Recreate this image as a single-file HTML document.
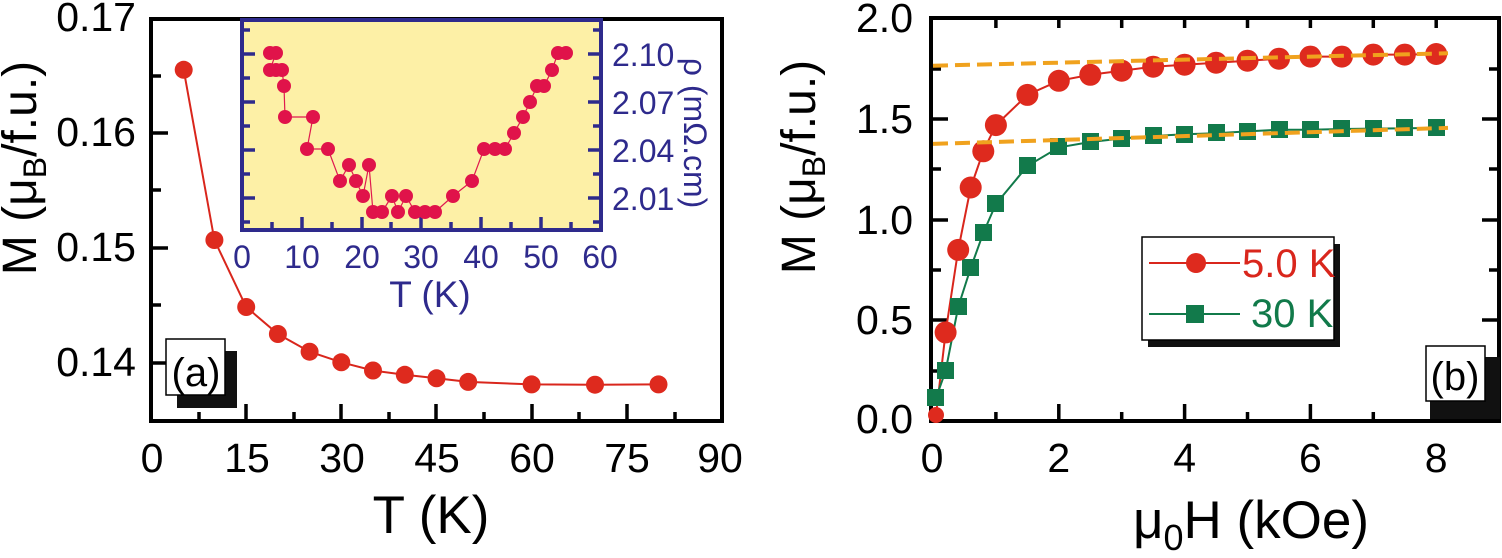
<!DOCTYPE html>
<html><head><meta charset="utf-8"><style>
html,body{margin:0;padding:0;background:#fff;}
svg{display:block;}
text{font-family:"Liberation Sans",sans-serif;}
</style></head><body>
<svg width="1502" height="558" viewBox="0 0 1502 558" xmlns="http://www.w3.org/2000/svg">
<!-- ===== Panel (a) ===== -->
<rect x="151" y="19" width="571" height="402" fill="none" stroke="#000" stroke-width="4"/>
<g stroke="#000" stroke-width="3.5">
<line x1="151" y1="133" x2="168" y2="133"/><line x1="151" y1="248" x2="168" y2="248"/><line x1="151" y1="363" x2="168" y2="363"/>
<line x1="151" y1="76" x2="161" y2="76"/><line x1="151" y1="190" x2="161" y2="190"/><line x1="151" y1="305" x2="161" y2="305"/>
<line x1="246" y1="421" x2="246" y2="404"/><line x1="341" y1="421" x2="341" y2="404"/><line x1="436" y1="421" x2="436" y2="404"/><line x1="532" y1="421" x2="532" y2="404"/><line x1="627" y1="421" x2="627" y2="404"/>
<line x1="199" y1="421" x2="199" y2="412"/><line x1="294" y1="421" x2="294" y2="412"/><line x1="389" y1="421" x2="389" y2="412"/><line x1="484" y1="421" x2="484" y2="412"/><line x1="579" y1="421" x2="579" y2="412"/><line x1="675" y1="421" x2="675" y2="412"/>
</g>
<g font-size="41" text-anchor="end" fill="#000">
<text x="136" y="31">0.17</text><text x="136" y="146">0.16</text><text x="136" y="261">0.15</text><text x="136" y="376">0.14</text>
</g>
<g font-size="41" text-anchor="middle" fill="#000">
<text x="152" y="472">0</text><text x="247" y="472">15</text><text x="342" y="472">30</text><text x="437" y="472">45</text><text x="532" y="472">60</text><text x="627" y="472">75</text><text x="720" y="472">90</text>
</g>
<text x="431" y="533" font-size="53" text-anchor="middle">T (K)</text>
<text transform="translate(36,168) rotate(-90)" font-size="48" text-anchor="middle">M (μ<tspan font-size="32" dy="10">B</tspan><tspan dy="-10">/f.u.)</tspan></text>
<rect x="177" y="351" width="60" height="57" fill="#111"/>
<rect x="166" y="339" width="59" height="56" fill="#fff" stroke="#000" stroke-width="1.5"/>
<text x="196" y="386" font-size="40" text-anchor="middle">(a)</text>
<polyline fill="none" stroke="#d9261c" stroke-width="2" points="183.7,69.8 214.4,240 246.2,307 277.9,334 309.6,351.7 341.3,362.3 373,370.5 404.8,374.8 436.5,378.3 468.2,381.9 531.6,384.4 595,384.7 658.5,384.4"/>
<g fill="#de2a1e">
<circle cx="183.7" cy="69.8" r="9"/><circle cx="214.4" cy="240" r="9"/><circle cx="246.2" cy="307" r="9"/><circle cx="277.9" cy="334" r="9"/><circle cx="309.6" cy="351.7" r="9"/><circle cx="341.3" cy="362.3" r="9"/><circle cx="373" cy="370.5" r="9"/><circle cx="404.8" cy="374.8" r="9"/><circle cx="436.5" cy="378.3" r="9"/><circle cx="468.2" cy="381.9" r="9"/><circle cx="531.6" cy="384.4" r="9"/><circle cx="595" cy="384.7" r="9"/><circle cx="658.5" cy="384.4" r="9"/>
</g>
<!-- ===== Inset ===== -->
<rect x="242" y="20" width="359" height="210" fill="#fdf0a6" stroke="#2e2a8c" stroke-width="4"/>
<g stroke="#2e2a8c" stroke-width="3.5">
<line x1="242" y1="54" x2="255" y2="54"/><line x1="242" y1="102" x2="255" y2="102"/><line x1="242" y1="150" x2="255" y2="150"/><line x1="242" y1="198" x2="255" y2="198"/>
<line x1="242" y1="30" x2="250" y2="30"/><line x1="242" y1="78" x2="250" y2="78"/><line x1="242" y1="126" x2="250" y2="126"/><line x1="242" y1="174" x2="250" y2="174"/><line x1="242" y1="222" x2="250" y2="222"/>
<line x1="601" y1="54" x2="588" y2="54"/><line x1="601" y1="102" x2="588" y2="102"/><line x1="601" y1="150" x2="588" y2="150"/><line x1="601" y1="198" x2="588" y2="198"/>
<line x1="601" y1="30" x2="593" y2="30"/><line x1="601" y1="78" x2="593" y2="78"/><line x1="601" y1="126" x2="593" y2="126"/><line x1="601" y1="174" x2="593" y2="174"/><line x1="601" y1="222" x2="593" y2="222"/>
<line x1="302" y1="230" x2="302" y2="217"/><line x1="362" y1="230" x2="362" y2="217"/><line x1="421" y1="230" x2="421" y2="217"/><line x1="481" y1="230" x2="481" y2="217"/><line x1="541" y1="230" x2="541" y2="217"/>
<line x1="272" y1="230" x2="272" y2="222"/><line x1="332" y1="230" x2="332" y2="222"/><line x1="391" y1="230" x2="391" y2="222"/><line x1="451" y1="230" x2="451" y2="222"/><line x1="511" y1="230" x2="511" y2="222"/><line x1="571" y1="230" x2="571" y2="222"/>
</g>
<g font-size="32" fill="#2e2a8c">
<text x="612" y="66">2.10</text><text x="612" y="114">2.07</text><text x="612" y="162">2.04</text><text x="612" y="210">2.01</text>
</g>
<text transform="translate(684,133) rotate(90)" font-size="32" fill="#2e2a8c" text-anchor="middle">ρ (mΩ.cm)</text>
<g font-size="32" text-anchor="middle" fill="#2e2a8c">
<text x="242" y="268">0</text><text x="302" y="268">10</text><text x="362" y="268">20</text><text x="421" y="268">30</text><text x="481" y="268">40</text><text x="541" y="268">50</text><text x="600" y="268">60</text>
</g>
<text x="430" y="307" font-size="37" text-anchor="middle" fill="#2e2a8c">T (K)</text>
<polyline fill="none" stroke="#e0194f" stroke-width="1.2" points="270,53 276,53 270,70 276,70 282,70 284,86 285,117 313,117 307,149 328,149 340,181 349,165 356,181 363,196 369,165 373,212 382,212 392,196 398,212 406,196 415,212 425,212 435,212 453,196 472,181 484,149 495,149 505,149 514,133 523,117 530,102 537,86 544,86 552,70 558,53 566,53"/>
<g fill="#e0134a">
<circle cx="270" cy="53" r="7"/><circle cx="276" cy="53" r="7"/><circle cx="270" cy="70" r="7"/><circle cx="276" cy="70" r="7"/><circle cx="282" cy="70" r="7"/><circle cx="284" cy="86" r="7"/><circle cx="285" cy="117" r="7"/><circle cx="313" cy="117" r="7"/><circle cx="307" cy="149" r="7"/><circle cx="328" cy="149" r="7"/><circle cx="340" cy="181" r="7"/><circle cx="349" cy="165" r="7"/><circle cx="356" cy="181" r="7"/><circle cx="363" cy="196" r="7"/><circle cx="369" cy="165" r="7"/><circle cx="373" cy="212" r="7"/><circle cx="382" cy="212" r="7"/><circle cx="392" cy="196" r="7"/><circle cx="398" cy="212" r="7"/><circle cx="406" cy="196" r="7"/><circle cx="415" cy="212" r="7"/><circle cx="425" cy="212" r="7"/><circle cx="435" cy="212" r="7"/><circle cx="453" cy="196" r="7"/><circle cx="472" cy="181" r="7"/><circle cx="484" cy="149" r="7"/><circle cx="495" cy="149" r="7"/><circle cx="505" cy="149" r="7"/><circle cx="514" cy="133" r="7"/><circle cx="523" cy="117" r="7"/><circle cx="530" cy="102" r="7"/><circle cx="537" cy="86" r="7"/><circle cx="544" cy="86" r="7"/><circle cx="552" cy="70" r="7"/><circle cx="558" cy="53" r="7"/><circle cx="566" cy="53" r="7"/>
</g>
<!-- ===== Panel (b) ===== -->
<rect x="931" y="18" width="568" height="403" fill="none" stroke="#000" stroke-width="4"/>
<g stroke="#000" stroke-width="3.5">
<line x1="931" y1="119" x2="948" y2="119"/><line x1="931" y1="220" x2="948" y2="220"/><line x1="931" y1="320" x2="948" y2="320"/>
<line x1="931" y1="69" x2="941" y2="69"/><line x1="931" y1="169" x2="941" y2="169"/><line x1="931" y1="270" x2="941" y2="270"/><line x1="931" y1="371" x2="941" y2="371"/>
<line x1="1499" y1="119" x2="1482" y2="119"/><line x1="1499" y1="220" x2="1482" y2="220"/><line x1="1499" y1="320" x2="1482" y2="320"/>
<line x1="1499" y1="69" x2="1489" y2="69"/><line x1="1499" y1="169" x2="1489" y2="169"/><line x1="1499" y1="270" x2="1489" y2="270"/>
<line x1="995.9" y1="421" x2="995.9" y2="412"/><line x1="1121.7" y1="421" x2="1121.7" y2="412"/><line x1="1247.5" y1="421" x2="1247.5" y2="412"/><line x1="1373.3" y1="421" x2="1373.3" y2="412"/>
<line x1="1058.8" y1="421" x2="1058.8" y2="404"/><line x1="1184.6" y1="421" x2="1184.6" y2="404"/><line x1="1310.4" y1="421" x2="1310.4" y2="404"/>
<line x1="995.9" y1="18" x2="995.9" y2="28"/><line x1="1058.8" y1="18" x2="1058.8" y2="28"/><line x1="1121.7" y1="18" x2="1121.7" y2="28"/><line x1="1184.6" y1="18" x2="1184.6" y2="28"/><line x1="1247.5" y1="18" x2="1247.5" y2="28"/><line x1="1310.4" y1="18" x2="1310.4" y2="28"/><line x1="1373.3" y1="18" x2="1373.3" y2="28"/><line x1="1436.2" y1="18" x2="1436.2" y2="28"/>
</g>
<g font-size="41" text-anchor="end">
<text x="913" y="32">2.0</text><text x="913" y="133">1.5</text><text x="913" y="234">1.0</text><text x="913" y="334">0.5</text><text x="913" y="433">0.0</text>
</g>
<g font-size="41" text-anchor="middle">
<text x="932" y="472">0</text><text x="1058.8" y="472">2</text><text x="1184.6" y="472">4</text><text x="1310.4" y="472">6</text><text x="1436.2" y="472">8</text>
</g>
<text x="1251" y="538" font-size="53" text-anchor="middle">μ<tspan font-size="36" dy="12">0</tspan><tspan dy="-12">H (kOe)</tspan></text>
<text transform="translate(815,167) rotate(-90)" font-size="48" text-anchor="middle">M (μ<tspan font-size="32" dy="10">B</tspan><tspan dy="-10">/f.u.)</tspan></text>
<polyline fill="none" stroke="#d9261c" stroke-width="2" points="936,415 945.6,332.4 958.2,249.9 970.7,187.5 983.3,151.3 995.9,125.1 1027.4,94.9 1058.8,80.8 1090.3,74.8 1121.7,70.7 1153.2,66.7 1184.6,64.7 1216.1,62.7 1247.5,60.7 1279,58.7 1310.4,56.6 1341.9,56.6 1373.3,54.6 1404.8,54.6 1436.2,54"/>
<polyline fill="none" stroke="#117a4a" stroke-width="2" points="936,398 945.6,371 958.2,307 970.7,268 983.3,233 995.9,204 1027.4,166 1058.8,147.4 1090.3,142 1121.7,138.5 1153.2,136 1184.6,134.3 1216.1,133.2 1247.5,131.4 1279,129.7 1310.4,129.7 1341.9,129 1373.3,128.6 1404.8,128.3 1436.2,128"/>
<g fill="#127a4b">
<rect x="927" y="389" width="17" height="17"/><rect x="937" y="362" width="17" height="17"/><rect x="950" y="298" width="17" height="17"/><rect x="962" y="259" width="17" height="17"/><rect x="975" y="224" width="17" height="17"/><rect x="987" y="195" width="17" height="17"/><rect x="1019" y="157" width="17" height="17"/><rect x="1050" y="138" width="17" height="17"/><rect x="1082" y="133" width="17" height="17"/><rect x="1113" y="130" width="17" height="17"/><rect x="1145" y="127" width="17" height="17"/><rect x="1176" y="126" width="17" height="17"/><rect x="1208" y="124" width="17" height="17"/><rect x="1239" y="123" width="17" height="17"/><rect x="1271" y="121" width="17" height="17"/><rect x="1302" y="121" width="17" height="17"/><rect x="1333" y="120" width="17" height="17"/><rect x="1365" y="120" width="17" height="17"/><rect x="1396" y="119" width="17" height="17"/><rect x="1428" y="119" width="17" height="17"/>
</g>
<g fill="#de2a1e">
<circle cx="936" cy="415" r="8"/><circle cx="945.6" cy="332.4" r="11"/><circle cx="958.2" cy="249.9" r="11"/><circle cx="970.7" cy="187.5" r="11"/><circle cx="983.3" cy="151.3" r="11"/><circle cx="995.9" cy="125.1" r="11"/><circle cx="1027.4" cy="94.9" r="11"/><circle cx="1058.8" cy="80.8" r="11"/><circle cx="1090.3" cy="74.8" r="11"/><circle cx="1121.7" cy="70.7" r="11"/><circle cx="1153.2" cy="66.7" r="11"/><circle cx="1184.6" cy="64.7" r="11"/><circle cx="1216.1" cy="62.7" r="11"/><circle cx="1247.5" cy="60.7" r="11"/><circle cx="1279" cy="58.7" r="11"/><circle cx="1310.4" cy="56.6" r="11"/><circle cx="1341.9" cy="56.6" r="11"/><circle cx="1373.3" cy="54.6" r="11"/><circle cx="1404.8" cy="54.6" r="11"/><circle cx="1436.2" cy="54" r="11"/>
</g>
<g stroke="#f0a21e" stroke-width="4" stroke-dasharray="15,7" fill="none">
<line x1="933" y1="65.7" x2="1448" y2="53.3"/>
<line x1="933" y1="143.9" x2="1448" y2="127.9"/>
</g>
<rect x="1430" y="357" width="70" height="62" fill="#111"/>
<rect x="1426" y="346" width="59" height="55" fill="#fff" stroke="#000" stroke-width="1.5"/>
<text x="1455" y="390" font-size="40" text-anchor="middle">(b)</text>
<rect x="1148" y="244" width="192" height="103" fill="#111"/>
<rect x="1142" y="237" width="192" height="103" fill="#fff" stroke="#000" stroke-width="1.5"/>
<line x1="1149" y1="263" x2="1240" y2="263" stroke="#d9261c" stroke-width="2"/>
<circle cx="1196" cy="263" r="10" fill="#de2a1e"/>
<text x="1242" y="277" font-family="Liberation Serif, serif" font-size="40" fill="#d9261c">5.0 K</text>
<line x1="1149" y1="314" x2="1240" y2="314" stroke="#117a4a" stroke-width="2"/>
<rect x="1186" y="305" width="18" height="18" fill="#127a4b"/>
<text x="1251" y="327" font-family="Liberation Serif, serif" font-size="40" fill="#117a4a">30 K</text>
</svg>
</body></html>
